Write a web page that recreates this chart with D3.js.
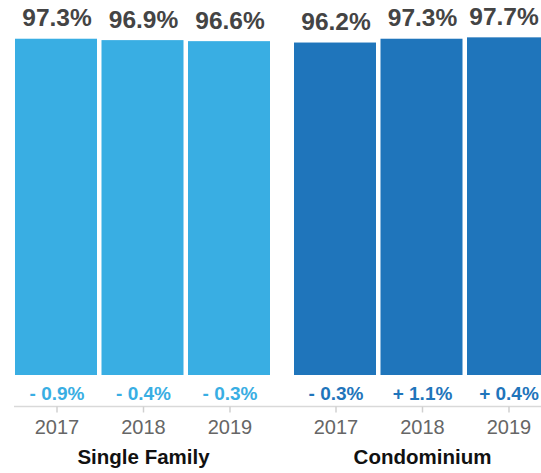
<!DOCTYPE html>
<html><head><meta charset="utf-8">
<script src="https://cdn.jsdelivr.net/npm/d3@7"></script>
<style>html,body{margin:0;padding:0;background:#fff;overflow:hidden}svg{display:block}</style>
</head><body>
<script>
const groups = ["Single Family", "Condominium"];
const years = ["2017", "2018", "2019"];
const singleFamily = [97.3, 96.9, 96.6];
const condominium = [96.2, 97.3, 97.7];
const sfChange = ["- 0.9%", "- 0.4%", "- 0.3%"];
const condoChange = ["- 0.3%", "+ 1.1%", "+ 0.4%"];
const colors = ["#39aee3", "#1f75bb"];

const W = 541, H = 473;
const svg = d3.select("body").append("svg").attr("width", W).attr("height", H);
const font = "'Liberation Sans', Arial, Helvetica, sans-serif";

const gx = d3.scaleBand().domain(groups).range([15, 549]).paddingInner(24/279).paddingOuter(0);
const ix = d3.scaleBand().domain(years).range([0, gx.bandwidth()]).paddingInner(0.052).paddingOuter(0);
const y = d3.scaleLinear().domain([0, 100]).range([375, 29.4]);

const data = [
  {group: groups[0], values: singleFamily, change: sfChange, color: colors[0]},
  {group: groups[1], values: condominium, change: condoChange, color: colors[1]}
];

// baseline axis line
svg.append("line").attr("x1", 14).attr("x2", W).attr("y1", 406.5).attr("y2", 406.5)
  .attr("stroke", "#d9d9d9").attr("stroke-width", 1.5);

function keepInside(sel, offset) {
  sel.each(function() {
    const bb = this.getBBox();
    const right = offset + bb.x + bb.width;
    if (right > W - 2) {
      d3.select(this).attr("x", +d3.select(this).attr("x") - (right - (W - 2)));
    }
  });
}

data.forEach(d => {
  const off = gx(d.group);
  const g = svg.append("g").attr("transform", `translate(${off},0)`);
  g.selectAll("rect").data(d.values).join("rect")
    .attr("x", (v, i) => ix(years[i]))
    .attr("width", ix.bandwidth())
    .attr("y", v => y(v))
    .attr("height", v => y(0) - y(v))
    .attr("fill", d.color);
  const vals = g.selectAll("text.val").data(d.values).join("text").attr("class", "val")
    .attr("x", (v, i) => ix(years[i]) + ix.bandwidth()/2 + 1)
    .attr("y", v => y(v) - 12.5)
    .attr("text-anchor", "middle")
    .attr("font-family", font).attr("font-weight", "bold").attr("font-size", 24.5)
    .attr("fill", "#444")
    .text(v => v.toFixed(1) + "%");
  keepInside(vals, off);
  const chg = g.selectAll("text.chg").data(d.change).join("text").attr("class", "chg")
    .attr("x", (c, i) => ix(years[i]) + ix.bandwidth()/2 + 1)
    .attr("y", 400)
    .attr("text-anchor", "middle")
    .attr("font-family", font).attr("font-weight", "bold").attr("font-size", 19)
    .attr("fill", d.color)
    .text(c => c);
  keepInside(chg, off);
  const ax = g.append("g").attr("transform", "translate(1,406.5)")
    .call(d3.axisBottom(ix).tickSize(6).tickSizeOuter(0).tickPadding(7));
  ax.select(".domain").remove();
  ax.selectAll(".tick line").attr("stroke", "#d0d0d0").attr("stroke-width", 1.5);
  ax.selectAll(".tick text").attr("font-family", font).attr("font-size", 20).attr("fill", "#666");
  g.append("text")
    .attr("x", gx.bandwidth()/2 + 1).attr("y", 464)
    .attr("text-anchor", "middle")
    .attr("font-family", font).attr("font-weight", "bold").attr("font-size", 20.5)
    .attr("fill", "#111")
    .text(d.group);
});
</script>
</body></html>
